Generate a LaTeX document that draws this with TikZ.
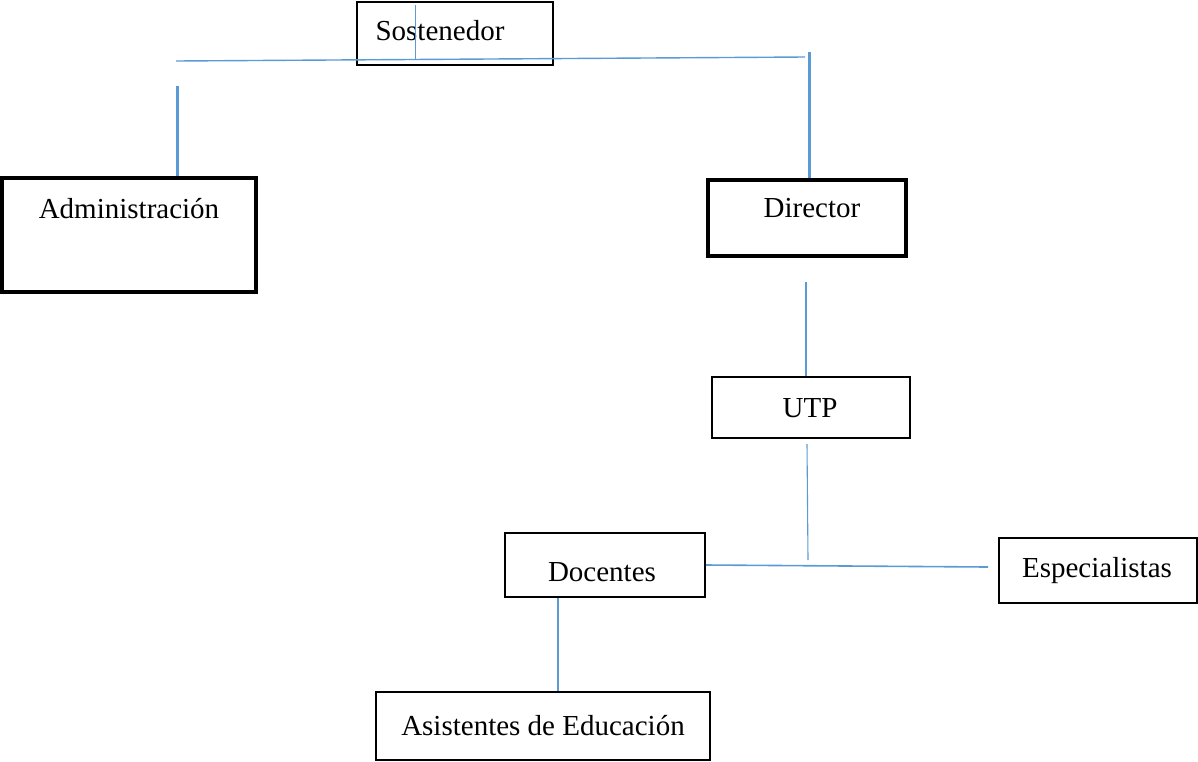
\documentclass[tikz,border=0pt]{standalone}
\usepackage{fontspec}
\setmainfont{Liberation Serif}
\definecolor{linkblue}{RGB}{91,155,213}
\begin{document}
\begin{tikzpicture}[x=1pt,y=-1pt,
  box/.style={draw=black,line width=2.2pt,inner sep=0pt,fill=none},
  thickbox/.style={draw=black,line width=3.2pt,inner sep=0pt},
  lbl/.style={inner sep=0pt,font=\fontsize{29}{34}\selectfont},
  thin/.style={draw=linkblue,line width=1.1pt},
  thick/.style={draw=linkblue,line width=3pt}]
\useasboundingbox (0,0) rectangle (1198,761);
% boxes
\node[box,minimum width=196pt,minimum height=63pt] (sost) at (455,33.5) {};
\node[thickbox,minimum width=254pt,minimum height=114pt] (admin) at (129,235) {};
\node[thickbox,minimum width=198pt,minimum height=76pt] (dir) at (807,218) {};
\node[box,minimum width=198pt,minimum height=61pt] (utp) at (811,407.5) {};
\node[box,minimum width=200pt,minimum height=64pt] (doc) at (605,565) {};
\node[box,minimum width=198pt,minimum height=65pt] (esp) at (1098,570.5) {};
\node[box,minimum width=334pt,minimum height=68pt] (asis) at (543,726) {};
% labels
\node[lbl] (tsost) at (440,31) {Sostenedor};
\node[lbl] (tadmin) at (129,209) {Administración};
\node[lbl] (tdir) at (812,208) {Director};
\node[lbl] (tutp) at (810,408) {UTP};
\node[lbl] (tdoc) at (602,572) {Docentes};
\node[lbl] (tesp) at (1097,571) {Especialistas};
\node[lbl] (tasis) at (543,726) {Asistentes de Educación};
% free ends
\coordinate (hl) at (176,61);
\coordinate (hr) at (805,57);
\coordinate (sv) at (415,5);
\coordinate (sb) at (415,59);
\coordinate (rtop) at (809,52);
\coordinate (ltop) at (177,86);
\coordinate (d1) at (806,282);
\coordinate (u1) at (807,444);
\coordinate (u2) at (808,560);
\coordinate (er) at (988,567);
\coordinate (dd) at (558,598);
% connectors
\draw[thin,line width=1.4pt] (hl) -- (hr);
\draw[thin,line width=0.9pt] (sv) -- (sb);
\draw[thick] (rtop) -- (dir.north -| rtop);
\draw[thick] (ltop) -- (admin.north -| ltop);
\draw[thin] (d1) -- (utp.north -| d1);
\draw[thin] (u1) -- (u2);
\draw[thin,line width=1.6pt] (doc.east) -- (er);
\draw[thin] (dd) -- (asis.north -| dd);
\end{tikzpicture}
\end{document}
